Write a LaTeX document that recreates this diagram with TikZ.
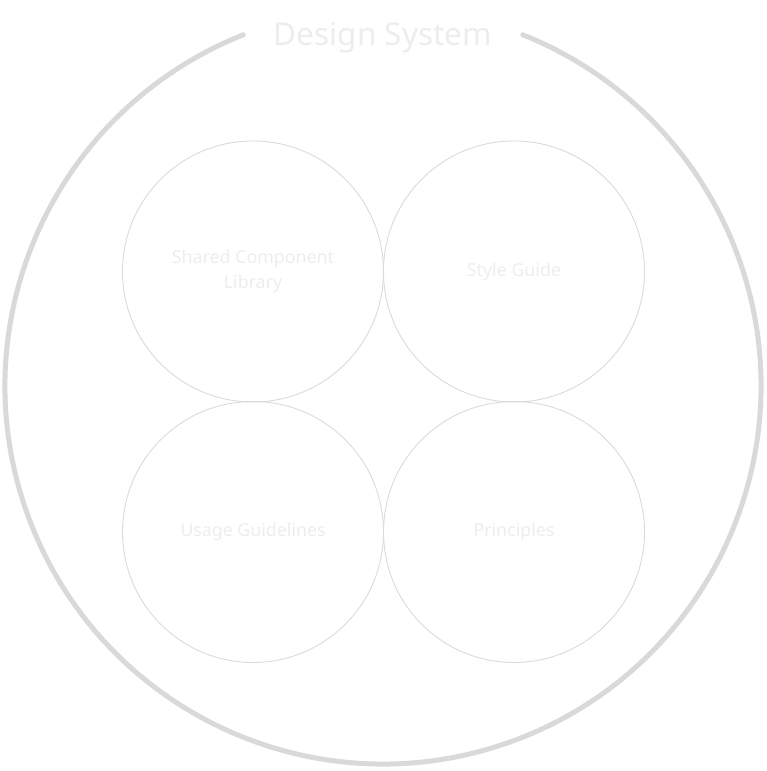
\documentclass[tikz,border=0pt]{standalone}
\usepackage{fontspec}
\setmainfont{Noto Sans}
\definecolor{ringgray}{HTML}{D9D9D9}
\definecolor{linegray}{HTML}{DADADA}
\definecolor{textgray}{HTML}{EDEDED}
\begin{document}
\begin{tikzpicture}[x=1pt, y=1pt,
    every node/.style={text=textgray, align=center},
    part/.style={circle, draw=linegray, line width=0.9pt, minimum size=261pt,
      inner sep=0pt, font=\fontsize{17.8}{25}\selectfont},
    ring/.style={draw=ringgray, line width=5pt, line cap=round}]

  \useasboundingbox (0,0) rectangle (766,771);

  % Outer ring with gap for title
  \coordinate (centre) at (383,385);
  \draw[ring] (centre) ++(111.7:378) arc[start angle=111.7, end angle=428.3, radius=378];
  \node[font=\fontsize{31.5}{34}\selectfont] (title) at (383,733) {Design System};

  % Parts
  \node[part] (library) at (253,499.5) {Shared Component\\Library};
  \node[part] (style) at (514,499.5) {Style Guide};
  \node[part] (usage) at (253,239) {Usage Guidelines};
  \node[part] (principles) at (514,239) {Principles};

\end{tikzpicture}
\end{document}
